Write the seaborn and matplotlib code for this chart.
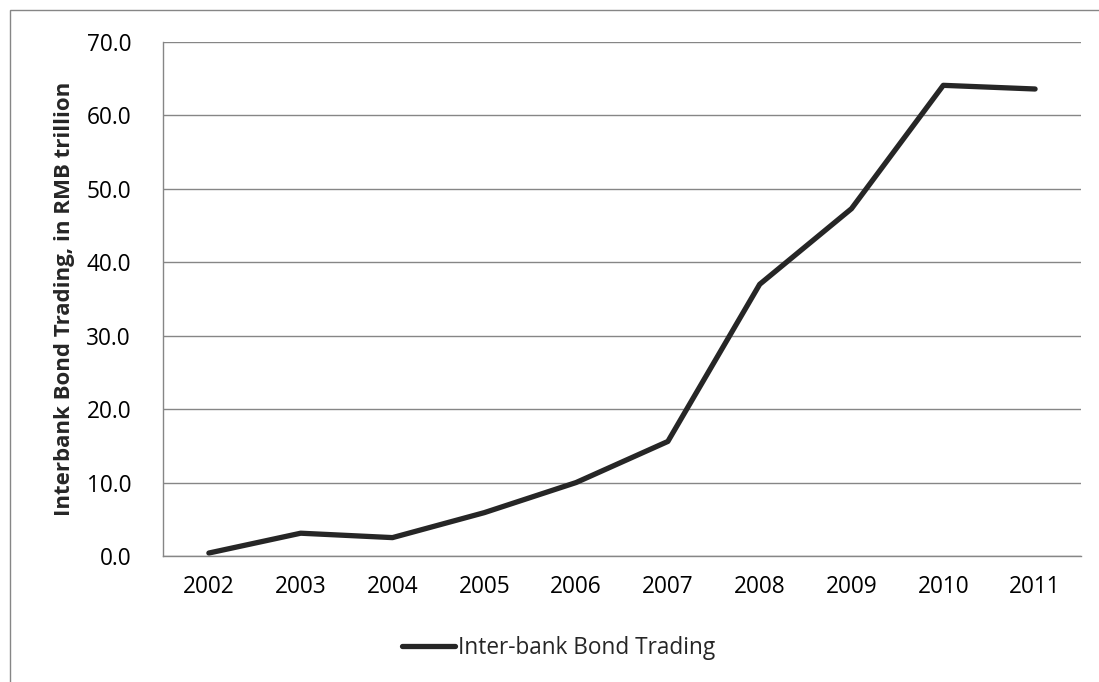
import seaborn as sns
import pandas as pd
import matplotlib.pyplot as plt
from matplotlib.patches import Rectangle

# values
years = ['2002', '2003', '2004', '2005', '2006', '2007', '2008', '2009', '2010', '2011']
trading = [0.4, 3.1, 2.5, 5.9, 10.0, 15.6, 37.0, 47.3, 64.1, 63.6]
series_name = 'Inter-bank Bond Trading'

df = pd.DataFrame({'Year': years, 'Value': trading, 'Series': series_name})

sns.set_theme(style='white')
plt.rcParams['font.family'] = ['Open Sans', 'DejaVu Sans']

fig = plt.figure(figsize=(10.99, 6.82), dpi=100)
ax = fig.add_axes([0.1483, 0.1848, 0.8353, 0.7536])

sns.lineplot(data=df, x='Year', y='Value', hue='Series', palette=['#262626'],
             linewidth=3.8, solid_capstyle='round', sort=False, ax=ax)

ax.set_xlim(-0.5, 9.5)
ax.set_ylim(0, 70)
ax.set_yticks(range(0, 71, 10))
ax.set_yticklabels([f'{v:.1f}' for v in range(0, 71, 10)])
ax.yaxis.grid(True, color='#868686', linewidth=1.0)
ax.xaxis.grid(False)
for side in ['top', 'right']:
    ax.spines[side].set_visible(False)
for side in ['left', 'bottom']:
    ax.spines[side].set_color('#868686')
    ax.spines[side].set_linewidth(1.0)
ax.tick_params(axis='both', length=0, labelsize=16.3, colors='black')
ax.tick_params(axis='x', pad=14)
ax.tick_params(axis='y', pad=23)
ax.set_xlabel('')
ax.set_ylabel('Interbank Bond Trading, in RMB trillion', fontsize=16,
              fontweight='bold', labelpad=8)

leg = ax.legend(loc='center', bbox_to_anchor=(0.431, -0.179), frameon=False,
                fontsize=16.3, handlelength=2.35, handletextpad=0.1)
for line in leg.get_lines():
    line.set_linewidth(3.8)

# outer chart frame
fig.patches.append(Rectangle((10 / 1099, -0.01), 1.2, 1 - 10 / 682 + 0.01,
                             transform=fig.transFigure, fill=False,
                             edgecolor='#868686', linewidth=1.0))

fig.savefig('out.png', dpi=100)
